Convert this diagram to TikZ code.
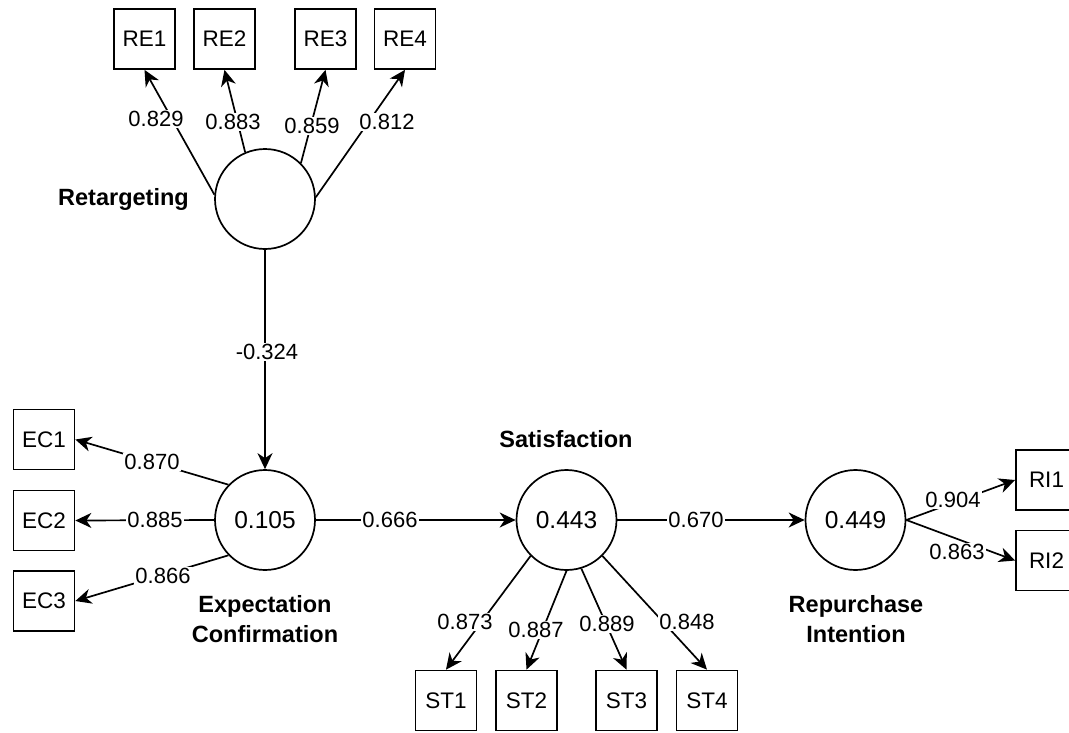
\documentclass[tikz,border=0pt]{standalone}
\usepackage{fontspec}
\setmainfont{Liberation Sans}
\usetikzlibrary{arrows.meta}
\begin{document}
\begin{tikzpicture}[x=1pt,y=-1pt,
  every node/.style={font=\fontsize{22}{26}\selectfont},
  indicator/.style={draw, line width=1.7pt, minimum width=61pt, minimum height=60pt, inner sep=0pt, font=\fontsize{22.5}{26}\selectfont},
  latent/.style={draw, circle, line width=1.7pt, minimum size=100pt, inner sep=0pt, font=\fontsize{24.5}{28}\selectfont},
  construct/.style={font=\bfseries\fontsize{23.5}{29.5}\selectfont, align=center},
  conn/.style={line width=1.7pt, -{Stealth[length=16pt,width=15pt,inset=5pt]}},
  coef/.style={fill=white, inner sep=1.5pt}]
\useasboundingbox (0,0) rectangle (1069,732);
\clip (0,0) rectangle (1069,732);

% latent constructs
\node[latent] (ret) at (265,199) {};
\node[latent] (ec)  at (265,520) {0.105};
\node[latent] (sat) at (566.5,520) {0.443};
\node[latent] (ri)  at (855.5,520) {0.449};

\node[construct] (retlbl) at (123.5,199) {Retargeting};
\node[construct] (eclbl)  at (265,619) {Expectation\\Confirmation};
\node[construct] (satlbl) at (566,439) {Satisfaction};
\node[construct] (rilbl)  at (856,619) {Repurchase\\Intention};

% indicators
\node[indicator] (re1) at (144.5,39) {RE1};
\node[indicator] (re2) at (224.5,39) {RE2};
\node[indicator] (re3) at (325.5,39) {RE3};
\node[indicator] (re4) at (405,39) {RE4};

\node[indicator] (ec1) at (44,439.5) {EC1};
\node[indicator] (ec2) at (44,520.5) {EC2};
\node[indicator] (ec3) at (44,601) {EC3};

\node[indicator] (st1) at (446,700.5) {ST1};
\node[indicator] (st2) at (526.5,700.5) {ST2};
\node[indicator] (st3) at (626.5,700.5) {ST3};
\node[indicator] (st4) at (707,700.5) {ST4};

\node[indicator] (ri1) at (1046.5,480) {RI1};
\node[indicator] (ri2) at (1046.5,560.5) {RI2};

% loadings and paths
\draw[conn] (ret.175) -- (re1.south);
\draw[conn] (ret.113) -- (re2.south);
\draw[conn] (ret.45)  -- (re3.south);
\draw[conn] (ret.2)   -- (re4.south);

\draw[conn] (ret.south) -- (ec.north);

\draw[conn] (ec.136) -- (ec1.east);
\draw[conn] (ec.west) -- (ec2.east);
\draw[conn] (ec.224) -- (ec3.east);

\draw[conn] (ec.east) -- (sat.west);

\draw[conn] (sat.225) -- (st1.north);
\draw[conn] (sat.270) -- (st2.north);
\draw[conn] (sat.287) -- (st3.north);
\draw[conn] (sat.315) -- (st4.north);

\draw[conn] (sat.east) -- (ri.west);

\draw[conn] (ri.east) -- (ri1.west);
\draw[conn] (ri.east) -- (ri2.west);

% coefficients
\node[coef] (l1) at (156,119) {0.829};
\node[coef] (l2) at (233,122) {0.883};
\node[coef] (l3) at (312,126) {0.859};
\node[coef] (l4) at (387,122) {0.812};
\node[coef] (l5) at (267,352) {-0.324};
\node[coef] (l6) at (152,462) {0.870};
\node[coef] (l7) at (155,520) {0.885};
\node[coef] (l8) at (163,576) {0.866};
\node[coef] (l9) at (390,520) {0.666};
\node[coef] (l10) at (696,520) {0.670};
\node[coef] (l11) at (465,622) {0.873};
\node[coef] (l12) at (536,630) {0.887};
\node[coef] (l13) at (607,624) {0.889};
\node[coef] (l14) at (687,622) {0.848};
\node[coef] (l15) at (953,500) {0.904};
\node[coef] (l16) at (957,552) {0.863};
\end{tikzpicture}
\end{document}
